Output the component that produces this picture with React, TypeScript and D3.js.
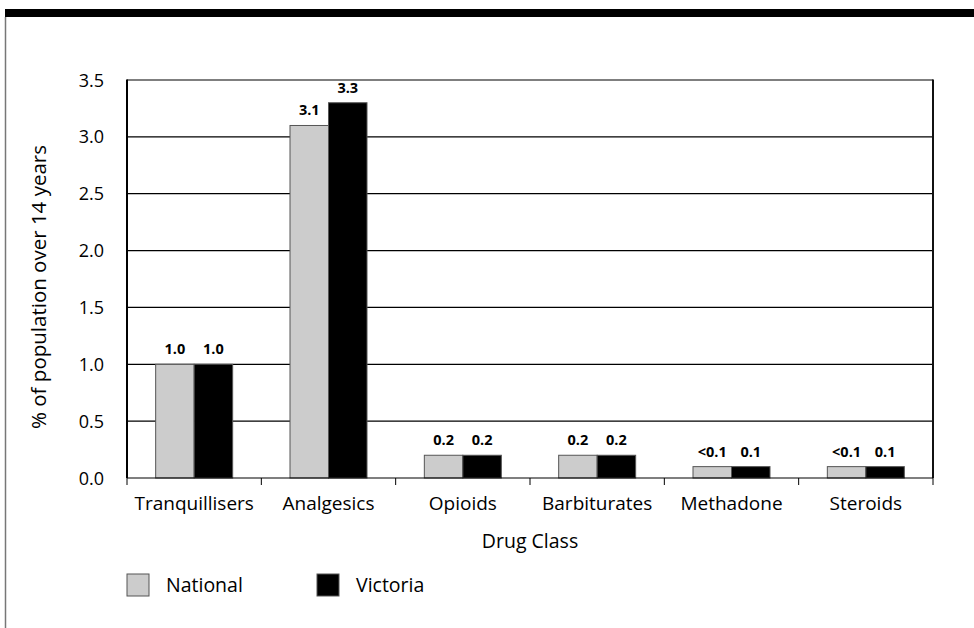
import { useEffect, useRef } from 'react';
import * as d3 from 'd3';

const categories = ['Tranquillisers', 'Analgesics', 'Opioids', 'Barbiturates', 'Methadone', 'Steroids'];
const nationalValues = [1.0, 3.1, 0.2, 0.2, 0.1, 0.1];
const victoriaValues = [1.0, 3.3, 0.2, 0.2, 0.1, 0.1];
const nationalLabels = ['1.0', '3.1', '0.2', '0.2', '<0.1', '<0.1'];
const victoriaLabels = ['1.0', '3.3', '0.2', '0.2', '0.1', '0.1'];
const yTicks = [0, 0.5, 1.0, 1.5, 2.0, 2.5, 3.0, 3.5];
const seriesNames = ['National', 'Victoria'];
const seriesColors = ['#cccccc', '#000000'];

const FONT = '"Open Sans", sans-serif';

const App = () => {
  const svgRef = useRef<SVGSVGElement>(null);

  useEffect(() => {
    if (!svgRef.current) return;
    const svg = d3.select(svgRef.current);
    svg.selectAll('*').remove();

    const width = 974;
    const height = 628;
    const left = 127;
    const right = 933;
    const top = 80;
    const bottom = 478;

    // page frame: thick black bar on top, grey line on the left
    svg.append('rect').attr('x', 5).attr('y', 9).attr('width', width - 5).attr('height', 8).attr('fill', '#000');
    svg.append('line').attr('x1', 5.5).attr('x2', 5.5).attr('y1', 17).attr('y2', height)
      .attr('stroke', '#777').attr('stroke-width', 1.5);

    const x = d3.scaleBand<string>().domain(categories).range([left, right]);
    const y = d3.scaleLinear().domain([0, 3.5]).range([bottom, top]);
    const barW = 38.5;

    const g = svg.append('g');

    // gridlines
    g.selectAll('.grid')
      .data(yTicks.slice(1))
      .join('line')
      .attr('x1', left).attr('x2', right)
      .attr('y1', d => y(d)).attr('y2', d => y(d))
      .attr('stroke', '#000').attr('stroke-width', 1.2);

    // right border
    g.append('line').attr('x1', right).attr('x2', right).attr('y1', top - 0.6).attr('y2', bottom)
      .attr('stroke', '#111').attr('stroke-width', 2);

    // bars
    const series = [nationalValues, victoriaValues];
    const labels = [nationalLabels, victoriaLabels];
    series.forEach((vals, si) => {
      g.selectAll(`.bar${si}`)
        .data(vals)
        .join('rect')
        .attr('x', (_, i) => (x(categories[i]) as number) + x.bandwidth() / 2 - barW + si * barW)
        .attr('y', d => y(d))
        .attr('width', barW)
        .attr('height', d => y(0) - y(d))
        .attr('fill', seriesColors[si])
        .attr('stroke', '#555')
        .attr('stroke-width', 1);
      g.selectAll(`.lab${si}`)
        .data(vals)
        .join('text')
        .attr('x', (_, i) => (x(categories[i]) as number) + x.bandwidth() / 2 - barW / 2 + si * barW)
        .attr('y', d => y(d) - 10)
        .attr('text-anchor', 'middle')
        .attr('font-family', FONT)
        .attr('font-weight', 'bold')
        .attr('font-size', 14.5)
        .text((_, i) => labels[si][i]);
    });

    // axes
    g.append('line').attr('x1', left).attr('x2', right).attr('y1', bottom).attr('y2', bottom)
      .attr('stroke', '#000').attr('stroke-width', 1.2);
    g.append('line').attr('x1', left).attr('x2', left).attr('y1', top - 0.6).attr('y2', bottom)
      .attr('stroke', '#000').attr('stroke-width', 2);

    // x tick marks at band boundaries
    const bounds = categories.map(c => x(c) as number).concat([right]);
    g.selectAll('.xt')
      .data(bounds)
      .join('line')
      .attr('x1', d => d).attr('x2', d => d)
      .attr('y1', bottom).attr('y2', bottom + 7)
      .attr('stroke', '#000').attr('stroke-width', 1);

    // x labels
    g.selectAll('.xl')
      .data(categories)
      .join('text')
      .attr('x', d => (x(d) as number) + x.bandwidth() / 2)
      .attr('y', 510)
      .attr('text-anchor', 'middle')
      .attr('font-family', FONT)
      .attr('font-size', 19)
      .text(d => d);

    // y labels
    g.selectAll('.yl')
      .data(yTicks)
      .join('text')
      .attr('x', 104)
      .attr('y', d => y(d) + 6.5)
      .attr('text-anchor', 'end')
      .attr('font-family', FONT)
      .attr('font-size', 18)
      .text(d => d.toFixed(1));

    // axis titles
    g.append('text')
      .attr('x', (left + right) / 2)
      .attr('y', 548)
      .attr('text-anchor', 'middle')
      .attr('font-family', FONT)
      .attr('font-size', 19.5)
      .text('Drug Class');
    g.append('text')
      .attr('transform', `translate(46,287) rotate(-90)`)
      .attr('text-anchor', 'middle')
      .attr('font-family', FONT)
      .attr('font-size', 20.5)
      .text('% of population over 14 years');

    // legend
    const legendX = [127, 317];
    seriesNames.forEach((name, i) => {
      g.append('rect')
        .attr('x', legendX[i]).attr('y', 574)
        .attr('width', 22).attr('height', 22)
        .attr('fill', seriesColors[i])
        .attr('stroke', '#555').attr('stroke-width', 1);
      g.append('text')
        .attr('x', legendX[i] + 39).attr('y', 592)
        .attr('font-family', FONT)
        .attr('font-size', 19.5)
        .text(name);
    });
  }, []);

  return (
    <svg
      ref={svgRef}
      width={974}
      height={628}
      style={{ position: 'absolute', left: 0, top: 0, background: '#fff' }}
    />
  );
};

export default App;
